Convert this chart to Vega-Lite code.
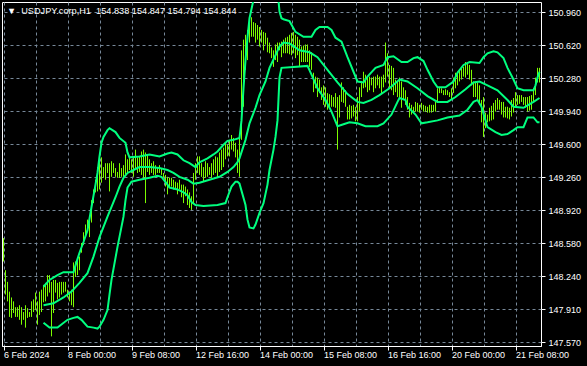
{
"$schema": "https://vega.github.io/schema/vega-lite/v6.json",
"width": 539, "height": 344,
"autosize": {"type": "none"},
"padding": {"left": 2, "top": 2, "right": 46, "bottom": 20},
"background": "black",
"view": {"stroke": "white", "strokeWidth": 1, "fill": "black"},
"title": {"text": "▼\u00a0\u00a0USDJPY.corp,H1\u00a0\u00a0154.838\u00a0154.847\u00a0154.794\u00a0154.844", "anchor": "start", "frame": "group", "orient": "top", "offset": 0, "dx": 5, "dy": 14, "color": "white", "font": "Liberation Sans", "fontSize": 9.2, "fontWeight": "normal"},
"datasets": {
"bars": [
{"i":0,"h":148.64,"l":148.40},{"i":1,"h":148.31,"l":148.06},{"i":2,"h":148.19,"l":147.99},{"i":3,"h":148.09,"l":147.83},{"i":4,"h":148.03,"l":147.82},{"i":5,"h":147.99,"l":147.87},{"i":6,"h":147.93,"l":147.83},{"i":7,"h":147.93,"l":147.83},{"i":8,"h":147.95,"l":147.80},{"i":9,"h":147.93,"l":147.75},
{"i":10,"h":147.88,"l":147.80},{"i":11,"h":147.95,"l":147.72},{"i":12,"h":147.92,"l":147.82},{"i":13,"h":147.88,"l":147.83},{"i":14,"h":147.99,"l":147.83},{"i":15,"h":148.01,"l":147.88},{"i":16,"h":148.08,"l":147.90},{"i":17,"h":147.99,"l":147.75},{"i":18,"h":148.09,"l":147.85},{"i":19,"h":148.11,"l":147.88},
{"i":20,"h":148.16,"l":147.98},{"i":21,"h":148.18,"l":147.99},{"i":22,"h":148.26,"l":148.04},{"i":23,"h":148.26,"l":148.08},{"i":24,"h":148.19,"l":147.63},{"i":25,"h":148.21,"l":147.87},{"i":26,"h":148.21,"l":148.08},{"i":27,"h":148.18,"l":148.01},{"i":28,"h":148.19,"l":148.03},{"i":29,"h":148.19,"l":148.06},
{"i":30,"h":148.19,"l":148.08},{"i":31,"h":148.19,"l":148.09},{"i":32,"h":148.11,"l":148.03},{"i":33,"h":148.09,"l":147.99},{"i":34,"h":148.11,"l":147.95},{"i":35,"h":148.39,"l":147.93},{"i":36,"h":148.40,"l":148.24},{"i":37,"h":148.42,"l":148.26},{"i":38,"h":148.45,"l":148.31},{"i":39,"h":148.59,"l":148.49},
{"i":40,"h":148.70,"l":148.57},{"i":41,"h":148.78,"l":148.65},{"i":42,"h":148.83,"l":148.70},{"i":43,"h":148.86,"l":148.65},{"i":44,"h":149.03,"l":148.80},{"i":45,"h":149.14,"l":149.00},{"i":46,"h":149.24,"l":149.11},{"i":47,"h":149.37,"l":149.12},{"i":48,"h":149.48,"l":149.14},{"i":49,"h":149.47,"l":149.21},
{"i":50,"h":149.37,"l":149.26},{"i":51,"h":149.41,"l":149.24},{"i":52,"h":149.41,"l":149.31},{"i":53,"h":149.41,"l":149.12},{"i":54,"h":149.43,"l":149.27},{"i":55,"h":149.41,"l":149.31},{"i":56,"h":149.36,"l":149.27},{"i":57,"h":149.32,"l":149.26},{"i":58,"h":149.41,"l":149.26},{"i":59,"h":149.36,"l":149.27},
{"i":60,"h":149.39,"l":149.27},{"i":61,"h":149.50,"l":149.29},{"i":62,"h":149.45,"l":149.31},{"i":63,"h":149.48,"l":149.34},{"i":64,"h":149.45,"l":149.31},{"i":65,"h":149.47,"l":149.27},{"i":66,"h":149.55,"l":149.34},{"i":67,"h":149.47,"l":149.31},{"i":68,"h":149.48,"l":149.32},{"i":69,"h":149.53,"l":149.29},
{"i":70,"h":149.55,"l":149.26},{"i":71,"h":149.52,"l":149.00},{"i":72,"h":149.50,"l":149.32},{"i":73,"h":149.45,"l":149.29},{"i":74,"h":149.41,"l":149.31},{"i":75,"h":149.43,"l":149.29},{"i":76,"h":149.39,"l":149.29},{"i":77,"h":149.37,"l":149.31},{"i":78,"h":149.39,"l":149.31},{"i":79,"h":149.36,"l":149.29},
{"i":80,"h":149.31,"l":149.26},{"i":81,"h":149.29,"l":149.17},{"i":82,"h":149.27,"l":149.09},{"i":83,"h":149.26,"l":149.16},{"i":84,"h":149.26,"l":149.17},{"i":85,"h":149.24,"l":149.14},{"i":86,"h":149.22,"l":149.14},{"i":87,"h":149.21,"l":149.09},{"i":88,"h":149.24,"l":149.14},{"i":89,"h":149.19,"l":149.06},
{"i":90,"h":149.19,"l":149.00},{"i":91,"h":149.17,"l":149.07},{"i":92,"h":149.14,"l":148.98},{"i":93,"h":149.11,"l":148.95},{"i":94,"h":149.07,"l":148.93},{"i":95,"h":149.31,"l":149.00},{"i":96,"h":149.41,"l":149.24},{"i":97,"h":149.48,"l":149.31},{"i":98,"h":149.48,"l":149.29},{"i":99,"h":149.41,"l":149.27},
{"i":100,"h":149.37,"l":149.22},{"i":101,"h":149.43,"l":149.26},{"i":102,"h":149.41,"l":149.27},{"i":103,"h":149.37,"l":149.29},{"i":104,"h":149.41,"l":149.26},{"i":105,"h":149.45,"l":149.29},{"i":106,"h":149.48,"l":149.31},{"i":107,"h":149.47,"l":149.26},{"i":108,"h":149.52,"l":149.32},{"i":109,"h":149.55,"l":149.34},
{"i":110,"h":149.57,"l":149.37},{"i":111,"h":149.62,"l":149.45},{"i":112,"h":149.60,"l":149.48},{"i":113,"h":149.65,"l":149.48},{"i":114,"h":149.70,"l":149.55},{"i":115,"h":149.67,"l":149.53},{"i":116,"h":149.62,"l":149.47},{"i":117,"h":149.55,"l":149.31},{"i":118,"h":149.67,"l":149.27},{"i":119,"h":150.57,"l":149.65},
{"i":120,"h":150.68,"l":149.99},{"i":121,"h":150.73,"l":150.37},{"i":122,"h":150.78,"l":150.47},{"i":123,"h":150.88,"l":150.65},{"i":124,"h":150.91,"l":150.71},{"i":125,"h":150.86,"l":150.71},{"i":126,"h":150.85,"l":150.65},{"i":127,"h":150.83,"l":150.68},{"i":128,"h":150.81,"l":150.61},{"i":129,"h":150.78,"l":150.65},
{"i":130,"h":150.76,"l":150.57},{"i":131,"h":150.75,"l":150.63},{"i":132,"h":150.70,"l":150.55},{"i":133,"h":150.65,"l":150.54},{"i":134,"h":150.60,"l":150.49},{"i":135,"h":150.57,"l":150.40},{"i":136,"h":150.63,"l":150.47},{"i":137,"h":150.65,"l":150.45},{"i":138,"h":150.65,"l":150.57},{"i":139,"h":150.66,"l":150.50},
{"i":140,"h":150.68,"l":150.54},{"i":141,"h":150.70,"l":150.54},{"i":142,"h":150.71,"l":150.54},{"i":143,"h":150.73,"l":150.53},{"i":144,"h":150.75,"l":150.52},{"i":145,"h":150.76,"l":150.54},{"i":146,"h":150.73,"l":150.49},{"i":147,"h":150.71,"l":150.52},{"i":148,"h":150.68,"l":150.40},{"i":149,"h":150.61,"l":150.45},
{"i":150,"h":150.62,"l":150.45},{"i":151,"h":150.63,"l":150.45},{"i":152,"h":150.63,"l":150.45},{"i":153,"h":150.57,"l":150.40},{"i":154,"h":150.55,"l":150.37},{"i":155,"h":150.34,"l":150.14},{"i":156,"h":150.30,"l":150.18},{"i":157,"h":150.29,"l":150.09},{"i":158,"h":150.27,"l":150.13},{"i":159,"h":150.19,"l":150.06},
{"i":160,"h":150.21,"l":150.01},{"i":161,"h":150.19,"l":149.99},{"i":162,"h":150.13,"l":149.96},{"i":163,"h":150.12,"l":149.98},{"i":164,"h":150.11,"l":149.99},{"i":165,"h":150.09,"l":149.99},{"i":166,"h":150.13,"l":149.98},{"i":167,"h":150.09,"l":149.55},{"i":168,"h":150.11,"l":149.88},{"i":169,"h":150.24,"l":150.04},
{"i":170,"h":150.19,"l":150.03},{"i":171,"h":150.16,"l":149.99},{"i":172,"h":149.99,"l":149.86},{"i":173,"h":150.01,"l":149.86},{"i":174,"h":150.00,"l":149.87},{"i":175,"h":150.01,"l":149.89},{"i":176,"h":149.99,"l":149.84},{"i":177,"h":150.09,"l":149.84},{"i":178,"h":150.19,"l":149.94},{"i":179,"h":150.25,"l":150.09},
{"i":180,"h":150.35,"l":150.18},{"i":181,"h":150.32,"l":150.19},{"i":182,"h":150.30,"l":150.14},{"i":183,"h":150.30,"l":150.16},{"i":184,"h":150.29,"l":150.21},{"i":185,"h":150.30,"l":150.14},{"i":186,"h":150.30,"l":150.18},{"i":187,"h":150.32,"l":150.21},{"i":188,"h":150.30,"l":150.18},{"i":189,"h":150.30,"l":150.13},
{"i":190,"h":150.32,"l":150.19},{"i":191,"h":150.65,"l":150.24},{"i":192,"h":150.54,"l":150.30},{"i":193,"h":150.42,"l":150.19},{"i":194,"h":150.41,"l":150.16},{"i":195,"h":150.39,"l":150.11},{"i":196,"h":150.27,"l":150.14},{"i":197,"h":150.25,"l":150.09},{"i":198,"h":150.29,"l":150.09},{"i":199,"h":150.25,"l":149.98},
{"i":200,"h":150.19,"l":150.06},{"i":201,"h":150.16,"l":150.01},{"i":202,"h":150.09,"l":149.96},{"i":203,"h":150.03,"l":149.88},{"i":204,"h":150.01,"l":149.91},{"i":205,"h":149.99,"l":149.93},{"i":206,"h":150.04,"l":149.94},{"i":207,"h":150.03,"l":149.94},{"i":208,"h":150.01,"l":149.93},{"i":209,"h":150.03,"l":149.96},
{"i":210,"h":150.01,"l":149.94},{"i":211,"h":150.00,"l":149.94},{"i":212,"h":149.99,"l":149.93},{"i":213,"h":150.01,"l":149.93},{"i":214,"h":150.01,"l":149.93},{"i":215,"h":150.01,"l":149.94},{"i":216,"h":150.04,"l":149.94},{"i":217,"h":150.18,"l":150.04},{"i":218,"h":150.19,"l":150.13},{"i":219,"h":150.18,"l":150.13},
{"i":220,"h":150.16,"l":150.11},{"i":221,"h":150.17,"l":150.11},{"i":222,"h":150.16,"l":150.11},{"i":223,"h":150.14,"l":150.09},{"i":224,"h":150.18,"l":150.06},{"i":225,"h":150.29,"l":150.13},{"i":226,"h":150.34,"l":150.18},{"i":227,"h":150.35,"l":150.21},{"i":228,"h":150.37,"l":150.25},{"i":229,"h":150.40,"l":150.27},
{"i":230,"h":150.40,"l":150.30},{"i":231,"h":150.45,"l":150.29},{"i":232,"h":150.44,"l":150.32},{"i":233,"h":150.42,"l":150.27},{"i":234,"h":150.37,"l":150.21},{"i":235,"h":150.25,"l":150.09},{"i":236,"h":150.25,"l":150.09},{"i":237,"h":150.24,"l":150.06},{"i":238,"h":150.21,"l":150.01},{"i":239,"h":150.06,"l":149.83},
{"i":240,"h":150.09,"l":149.68},{"i":241,"h":149.93,"l":149.77},{"i":242,"h":149.91,"l":149.83},{"i":243,"h":149.98,"l":149.84},{"i":244,"h":150.00,"l":149.85},{"i":245,"h":150.03,"l":149.86},{"i":246,"h":150.06,"l":149.94},{"i":247,"h":150.08,"l":149.96},{"i":248,"h":150.06,"l":149.96},{"i":249,"h":150.04,"l":149.91},
{"i":250,"h":150.04,"l":149.88},{"i":251,"h":149.99,"l":149.88},{"i":252,"h":149.99,"l":149.87},{"i":253,"h":149.98,"l":149.86},{"i":254,"h":150.06,"l":149.89},{"i":255,"h":150.08,"l":149.93},{"i":256,"h":150.14,"l":149.98},{"i":257,"h":150.11,"l":150.01},{"i":258,"h":150.11,"l":150.02},{"i":259,"h":150.11,"l":150.04},
{"i":260,"h":150.09,"l":150.01},{"i":261,"h":150.09,"l":149.98},{"i":262,"h":150.09,"l":149.94},{"i":263,"h":150.10,"l":149.95},{"i":264,"h":150.11,"l":149.96},{"i":265,"h":150.18,"l":150.04},{"i":266,"h":150.29,"l":150.11},{"i":267,"h":150.39,"l":150.24},{"i":268,"h":150.39,"l":150.24}
],
"bands": [
{"b":"u","i":20,"p":148.14},{"b":"u","i":23,"p":148.21},{"b":"u","i":27,"p":148.26},{"b":"u","i":30,"p":148.29},{"b":"u","i":35,"p":148.29},{"b":"u","i":36,"p":148.36},{"b":"u","i":38,"p":148.49},{"b":"u","i":40,"p":148.60},{"b":"u","i":42,"p":148.72},{"b":"u","i":44,"p":148.96},
{"b":"u","i":46,"p":149.19},{"b":"u","i":47,"p":149.31},{"b":"u","i":48,"p":149.48},{"b":"u","i":49,"p":149.62},{"b":"u","i":50,"p":149.68},{"b":"u","i":52,"p":149.75},{"b":"u","i":53,"p":149.77},{"b":"u","i":56,"p":149.73},{"b":"u","i":58,"p":149.67},{"b":"u","i":61,"p":149.62},
{"b":"u","i":62,"p":149.52},{"b":"u","i":63,"p":149.47},{"b":"u","i":68,"p":149.48},{"b":"u","i":73,"p":149.50},{"b":"u","i":78,"p":149.48},{"b":"u","i":82,"p":149.51},{"b":"u","i":84,"p":149.52},{"b":"u","i":87,"p":149.50},{"b":"u","i":90,"p":149.44},{"b":"u","i":93,"p":149.41},
{"b":"u","i":96,"p":149.37},{"b":"u","i":98,"p":149.42},{"b":"u","i":102,"p":149.46},{"b":"u","i":105,"p":149.50},{"b":"u","i":107,"p":149.53},{"b":"u","i":110,"p":149.60},{"b":"u","i":112,"p":149.64},{"b":"u","i":115,"p":149.65},{"b":"u","i":118,"p":149.67},{"b":"u","i":119,"p":149.85},
{"b":"u","i":120,"p":150.18},{"b":"u","i":121,"p":150.47},{"b":"u","i":122,"p":150.70},{"b":"u","i":123,"p":150.90},{"b":"u","i":125,"p":151.09},{"b":"u","i":126,"p":151.21},{"b":"u","i":128,"p":151.32},{"b":"u","i":131,"p":151.40},{"b":"u","i":133,"p":151.44},{"b":"u","i":135,"p":151.38},
{"b":"u","i":137,"p":151.19},{"b":"u","i":138,"p":150.97},{"b":"u","i":139,"p":150.90},{"b":"u","i":140,"p":150.89},{"b":"u","i":143,"p":150.87},{"b":"u","i":146,"p":150.76},{"b":"u","i":150,"p":150.71},{"b":"u","i":154,"p":150.71},{"b":"u","i":156,"p":150.78},{"b":"u","i":158,"p":150.81},
{"b":"u","i":162,"p":150.81},{"b":"u","i":164,"p":150.78},{"b":"u","i":166,"p":150.70},{"b":"u","i":169,"p":150.66},{"b":"u","i":172,"p":150.50},{"b":"u","i":175,"p":150.35},{"b":"u","i":177,"p":150.25},{"b":"u","i":180,"p":150.24},{"b":"u","i":182,"p":150.30},{"b":"u","i":186,"p":150.39},
{"b":"u","i":190,"p":150.42},{"b":"u","i":192,"p":150.50},{"b":"u","i":195,"p":150.51},{"b":"u","i":199,"p":150.45},{"b":"u","i":202,"p":150.45},{"b":"u","i":205,"p":150.49},{"b":"u","i":207,"p":150.50},{"b":"u","i":210,"p":150.46},{"b":"u","i":212,"p":150.37},{"b":"u","i":215,"p":150.25},
{"b":"u","i":217,"p":150.19},{"b":"u","i":221,"p":150.19},{"b":"u","i":225,"p":150.25},{"b":"u","i":227,"p":150.34},{"b":"u","i":230,"p":150.42},{"b":"u","i":233,"p":150.45},{"b":"u","i":238,"p":150.44},{"b":"u","i":240,"p":150.50},{"b":"u","i":242,"p":150.54},{"b":"u","i":245,"p":150.56},
{"b":"u","i":247,"p":150.55},{"b":"u","i":250,"p":150.49},{"b":"u","i":252,"p":150.39},{"b":"u","i":255,"p":150.27},{"b":"u","i":257,"p":150.18},{"b":"u","i":260,"p":150.16},{"b":"u","i":265,"p":150.16},{"b":"u","i":266,"p":150.21},{"b":"u","i":267,"p":150.29},{"b":"u","i":268,"p":150.35},
{"b":"m","i":20,"p":147.95},{"b":"m","i":25,"p":147.97},{"b":"m","i":30,"p":148.03},{"b":"m","i":34,"p":148.09},{"b":"m","i":38,"p":148.18},{"b":"m","i":42,"p":148.28},{"b":"m","i":45,"p":148.45},{"b":"m","i":48,"p":148.65},{"b":"m","i":52,"p":148.86},{"b":"m","i":54,"p":148.96},
{"b":"m","i":56,"p":149.06},{"b":"m","i":58,"p":149.17},{"b":"m","i":60,"p":149.26},{"b":"m","i":62,"p":149.31},{"b":"m","i":65,"p":149.34},{"b":"m","i":68,"p":149.37},{"b":"m","i":73,"p":149.37},{"b":"m","i":78,"p":149.36},{"b":"m","i":82,"p":149.34},{"b":"m","i":85,"p":149.31},
{"b":"m","i":88,"p":149.27},{"b":"m","i":92,"p":149.24},{"b":"m","i":95,"p":149.20},{"b":"m","i":98,"p":149.21},{"b":"m","i":103,"p":149.24},{"b":"m","i":108,"p":149.27},{"b":"m","i":112,"p":149.32},{"b":"m","i":115,"p":149.37},{"b":"m","i":117,"p":149.42},{"b":"m","i":118,"p":149.46},
{"b":"m","i":121,"p":149.65},{"b":"m","i":123,"p":149.82},{"b":"m","i":126,"p":149.98},{"b":"m","i":128,"p":150.11},{"b":"m","i":131,"p":150.25},{"b":"m","i":133,"p":150.39},{"b":"m","i":136,"p":150.52},{"b":"m","i":138,"p":150.61},{"b":"m","i":140,"p":150.65},{"b":"m","i":143,"p":150.64},
{"b":"m","i":148,"p":150.57},{"b":"m","i":153,"p":150.55},{"b":"m","i":157,"p":150.50},{"b":"m","i":162,"p":150.37},{"b":"m","i":167,"p":150.24},{"b":"m","i":172,"p":150.12},{"b":"m","i":177,"p":150.04},{"b":"m","i":180,"p":150.03},{"b":"m","i":184,"p":150.06},{"b":"m","i":188,"p":150.11},
{"b":"m","i":193,"p":150.18},{"b":"m","i":198,"p":150.27},{"b":"m","i":202,"p":150.25},{"b":"m","i":207,"p":150.18},{"b":"m","i":212,"p":150.10},{"b":"m","i":217,"p":150.04},{"b":"m","i":222,"p":150.04},{"b":"m","i":226,"p":150.09},{"b":"m","i":231,"p":150.17},{"b":"m","i":235,"p":150.24},
{"b":"m","i":238,"p":150.25},{"b":"m","i":242,"p":150.21},{"b":"m","i":247,"p":150.16},{"b":"m","i":252,"p":150.06},{"b":"m","i":255,"p":149.99},{"b":"m","i":260,"p":149.98},{"b":"m","i":265,"p":150.04},{"b":"m","i":268,"p":150.08},
{"b":"d","i":20,"p":147.77},{"b":"d","i":23,"p":147.72},{"b":"d","i":27,"p":147.72},{"b":"d","i":32,"p":147.80},{"b":"d","i":35,"p":147.82},{"b":"d","i":37,"p":147.83},{"b":"d","i":39,"p":147.80},{"b":"d","i":42,"p":147.73},{"b":"d","i":45,"p":147.72},{"b":"d","i":47,"p":147.71},
{"b":"d","i":48,"p":147.73},{"b":"d","i":50,"p":147.80},{"b":"d","i":52,"p":147.90},{"b":"d","i":53,"p":148.06},{"b":"d","i":54,"p":148.21},{"b":"d","i":57,"p":148.55},{"b":"d","i":60,"p":148.86},{"b":"d","i":61,"p":149.03},{"b":"d","i":62,"p":149.16},{"b":"d","i":64,"p":149.22},
{"b":"d","i":68,"p":149.24},{"b":"d","i":73,"p":149.26},{"b":"d","i":77,"p":149.28},{"b":"d","i":79,"p":149.27},{"b":"d","i":82,"p":149.19},{"b":"d","i":83,"p":149.16},{"b":"d","i":87,"p":149.14},{"b":"d","i":90,"p":149.11},{"b":"d","i":92,"p":149.08},{"b":"d","i":94,"p":149.01},
{"b":"d","i":96,"p":148.98},{"b":"d","i":100,"p":148.97},{"b":"d","i":107,"p":148.98},{"b":"d","i":111,"p":149.00},{"b":"d","i":112,"p":149.06},{"b":"d","i":114,"p":149.17},{"b":"d","i":116,"p":149.22},{"b":"d","i":117,"p":149.22},{"b":"d","i":118,"p":149.20},{"b":"d","i":121,"p":148.98},
{"b":"d","i":122,"p":148.83},{"b":"d","i":123,"p":148.75},{"b":"d","i":125,"p":148.74},{"b":"d","i":126,"p":148.78},{"b":"d","i":128,"p":148.90},{"b":"d","i":130,"p":149.00},{"b":"d","i":132,"p":149.19},{"b":"d","i":133,"p":149.34},{"b":"d","i":135,"p":149.55},{"b":"d","i":136,"p":149.68},
{"b":"d","i":137,"p":149.85},{"b":"d","i":138,"p":150.29},{"b":"d","i":139,"p":150.39},{"b":"d","i":145,"p":150.40},{"b":"d","i":152,"p":150.41},{"b":"d","i":154,"p":150.32},{"b":"d","i":157,"p":150.18},{"b":"d","i":161,"p":150.06},{"b":"d","i":164,"p":149.94},{"b":"d","i":167,"p":149.79},
{"b":"d","i":170,"p":149.81},{"b":"d","i":173,"p":149.83},{"b":"d","i":177,"p":149.82},{"b":"d","i":181,"p":149.79},{"b":"d","i":187,"p":149.79},{"b":"d","i":190,"p":149.82},{"b":"d","i":194,"p":149.91},{"b":"d","i":197,"p":150.04},{"b":"d","i":198,"p":150.08},{"b":"d","i":201,"p":150.06},
{"b":"d","i":202,"p":149.99},{"b":"d","i":206,"p":149.91},{"b":"d","i":209,"p":149.82},{"b":"d","i":212,"p":149.83},{"b":"d","i":217,"p":149.85},{"b":"d","i":222,"p":149.88},{"b":"d","i":225,"p":149.89},{"b":"d","i":228,"p":149.90},{"b":"d","i":232,"p":149.96},{"b":"d","i":235,"p":150.04},
{"b":"d","i":237,"p":150.06},{"b":"d","i":239,"p":149.99},{"b":"d","i":241,"p":149.85},{"b":"d","i":242,"p":149.78},{"b":"d","i":246,"p":149.73},{"b":"d","i":249,"p":149.70},{"b":"d","i":252,"p":149.71},{"b":"d","i":255,"p":149.75},{"b":"d","i":257,"p":149.78},{"b":"d","i":260,"p":149.78},
{"b":"d","i":262,"p":149.88},{"b":"d","i":265,"p":149.88},{"b":"d","i":267,"p":149.83},{"b":"d","i":268,"p":149.83}
]
},
"layer": [
{"data": {"name": "bars"},
 "mark": {"type": "rule", "color": "#7cfc00", "strokeWidth": 1},
 "encoding": {
  "x": {"field": "i", "type": "quantitative",
    "scale": {"domain": [-0.75, 268.75], "nice": false, "zero": false},
    "axis": {"title": null, "values": [0,16,32,48,64,80,96,112,128,144,160,176,192,208,224,240,256], "tickCount": 100,
      "grid": true, "gridColor": "#778899", "gridDash": [3,3], "gridWidth": 1,
      "domainColor": "white", "tickColor": "white", "tickSize": 4,
      "tickOpacity": {"condition": {"test": "datum.value % 32 === 0", "value": 1}, "value": 0},
      "labelExpr": "['6 Feb 2024','','8 Feb 00:00','','9 Feb 08:00','','12 Feb 16:00','','14 Feb 00:00','','15 Feb 08:00','','16 Feb 16:00','','20 Feb 00:00','','21 Feb 08:00'][datum.value/16]",
      "labelAlign": "left", "labelColor": "white", "labelFont": "Liberation Sans", "labelFontSize": 9,
      "labelPadding": 0, "labelOverlap": false, "labelFlush": false, "labelBound": false}},
  "y": {"field": "h", "type": "quantitative",
    "scale": {"domain": [147.531, 151.067], "nice": false, "zero": false},
    "axis": {"title": null, "orient": "right", "tickCount": 100,
      "values": [150.96,150.621,150.282,149.943,149.604,149.265,148.926,148.587,148.248,147.909,147.57],
      "grid": true, "gridColor": "#778899", "gridDash": [3,3], "gridWidth": 1,
      "domain": false, "tickColor": "white", "tickSize": 4,
      "labelExpr": "['150.960','150.620','150.280','149.940','149.600','149.260','148.920','148.580','148.240','147.910','147.570'][round((150.96-datum.value)/0.339)]",
      "labelColor": "white", "labelFont": "Liberation Sans", "labelFontSize": 9, "labelPadding": 3,
      "labelOverlap": false, "labelBound": false, "labelFlush": false}},
  "y2": {"field": "l"}
 }},
{"data": {"name": "bands"},
 "mark": {"type": "line", "color": "#00ff7f", "strokeWidth": 2, "clip": true},
 "encoding": {
  "x": {"field": "i", "type": "quantitative"},
  "y": {"field": "p", "type": "quantitative"},
  "detail": {"field": "b"}
 }}
]
}
